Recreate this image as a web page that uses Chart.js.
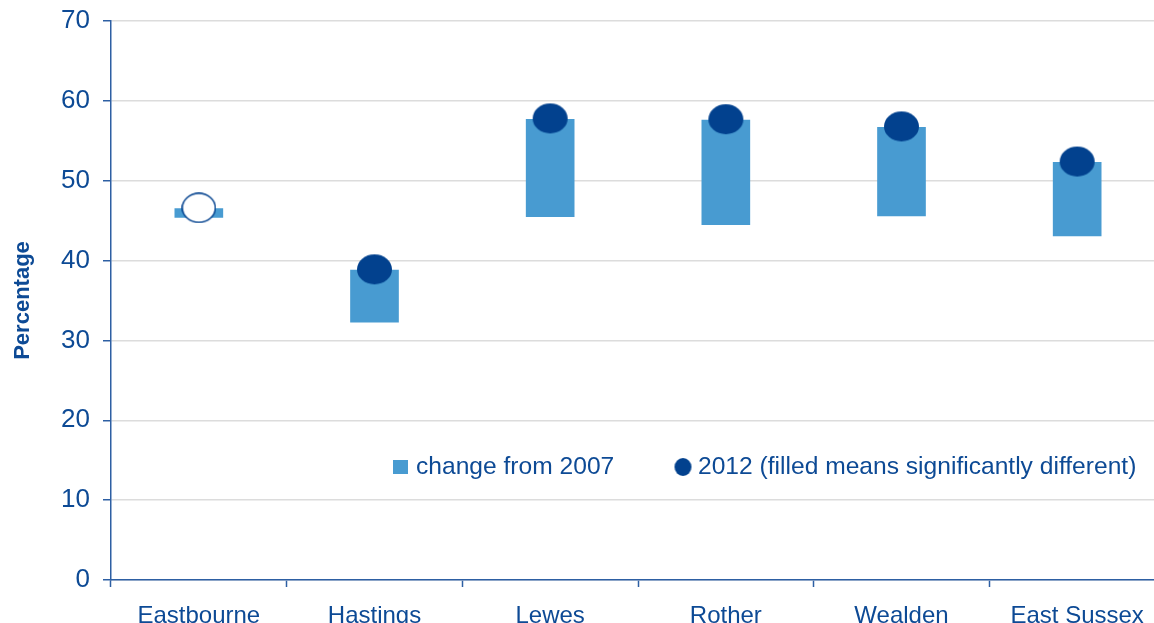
<!DOCTYPE html>
<html>
<head>
<meta charset="utf-8">
<script src="https://cdn.jsdelivr.net/npm/chart.js@4.4.1/dist/chart.umd.min.js"></script>
<style>
  html, body { margin: 0; padding: 0; background: #fff; overflow: hidden; }
  #wrap { position: absolute; left: 0; top: 0; width: 1170px; height: 660px; }
</style>
</head>
<body>
<div id="wrap"><canvas id="chart" width="1170" height="660"></canvas></div>
<script>
const areas = ['Eastbourne', 'Hastings', 'Lewes', 'Rother', 'Wealden', 'East Sussex']
const value2007 = [45.4, 32.3, 45.5, 44.5, 45.6, 43.1]
const value2012 = [46.5, 38.8, 57.7, 57.6, 56.7, 52.3]
const point2012 = [46.6, 38.9, 57.8, 57.7, 56.8, 52.4]
const significant = [false, true, true, true, true, true]
const yTicks = [0, 10, 20, 30, 40, 50, 60, 70]

const textColor = '#0d4a95'
const axisColor = '#2d5fa3'
const barColor = '#489bd1'
const dotColor = '#02418e'
const font = '"Liberation Sans", Arial, sans-serif'

const ellipse = (w, h, filled) => {
  const c = document.createElement('canvas')
  c.width = w + 2; c.height = h + 2
  const ctx = c.getContext('2d')
  ctx.beginPath()
  ctx.ellipse(c.width / 2, c.height / 2, w / 2, h / 2, 0, 0, Math.PI * 2)
  ctx.fillStyle = filled ? dotColor : '#fff'
  ctx.fill()
  if (!filled) {
    ctx.lineWidth = 1.5
    ctx.strokeStyle = dotColor
    ctx.stroke()
  }
  return c
}
const dotFilled = ellipse(35, 30, true)
const dotOpen = ellipse(33, 29, false)
const legendDot = ellipse(17, 18, true)

const legendPlugin = {
  id: 'insideLegend',
  afterDraw(chart) {
    const ctx = chart.ctx
    ctx.save()
    ctx.fillStyle = barColor
    ctx.fillRect(393, 460, 15, 14)
    ctx.drawImage(legendDot, 683 - legendDot.width / 2, 467 - legendDot.height / 2)
    ctx.fillStyle = textColor
    ctx.font = '24.6px ' + font
    ctx.textBaseline = 'alphabetic'
    ctx.fillText('change from 2007', 416, 474)
    ctx.fillText('2012 (filled means significantly different)', 698, 474)
    ctx.restore()
  }
}

const data = {
  labels: areas,
  datasets: [
    {
      type: 'line',
      label: '2012 (filled means significantly different)',
      data: point2012,
      showLine: false,
      pointStyle: significant.map(s => s ? dotFilled : dotOpen),
      order: 1
    },
    {
      type: 'bar',
      label: 'change from 2007',
      data: areas.map((a, i) => [value2007[i], value2012[i]]),
      backgroundColor: barColor,
      borderWidth: 0,
      barThickness: 48,
      order: 2
    }
  ]
}

const config = {
  type: 'bar',
  data: data,
  options: {
    responsive: false,
    animation: false,
    events: [],
    layout: { padding: { top: 21, right: 1, left: 0, bottom: 0 } },
    plugins: { legend: { display: false }, tooltip: { enabled: false } },
    scales: {
      x: {
        grid: { display: true, drawOnChartArea: false, offset: true, tickLength: 7, tickColor: axisColor, tickWidth: 1.5 },
        border: { color: axisColor, width: 1.5 },
        ticks: { color: textColor, font: { family: font, size: 24 }, padding: 15, maxRotation: 0, autoSkip: false },
        afterFit: (scale) => { scale.height = 80 }
      },
      y: {
        min: 0,
        max: 70,
        afterBuildTicks: (scale) => { scale.ticks = yTicks.map(v => ({ value: v })) },
        grid: { color: '#dcdcdc', lineWidth: 1.5, tickLength: 8, tickColor: axisColor, tickWidth: 1.5 },
        border: { color: axisColor, width: 1.5 },
        ticks: { color: textColor, font: { family: font, size: 26 }, padding: 13 },
        title: { display: true, text: 'Percentage', color: textColor, font: { family: font, size: 22, weight: 'bold' }, padding: { top: 10, bottom: 0 } },
        afterFit: (scale) => {
          scale.width = 111
          scale.paddingTop = 0
          scale.paddingBottom = 0
        }
      }
    }
  },
  plugins: [legendPlugin]
}

new Chart(document.getElementById('chart'), config)
</script>
</body>
</html>
